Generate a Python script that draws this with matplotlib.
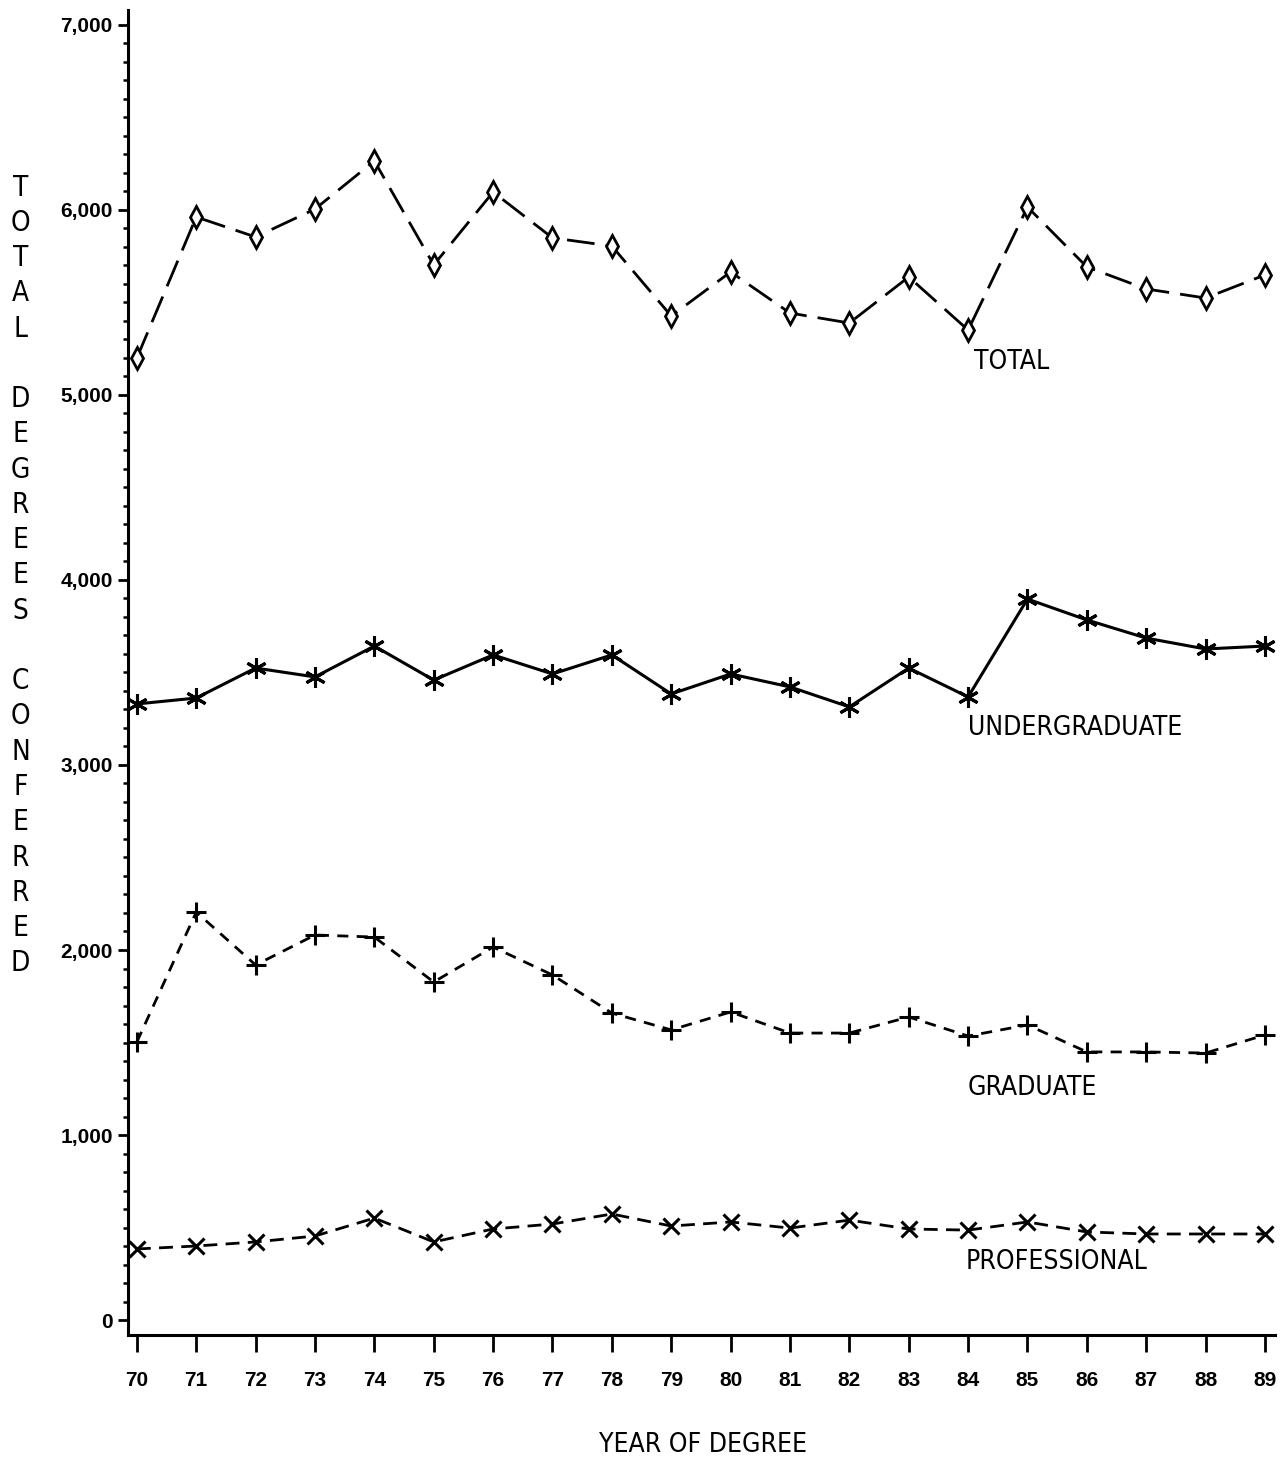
import matplotlib
matplotlib.use('Agg')
from matplotlib import pyplot as plt
from matplotlib.ticker import MultipleLocator, FuncFormatter
import numpy as np

years = [70, 71, 72, 73, 74, 75, 76, 77, 78, 79, 80, 81, 82, 83, 84, 85, 86, 87, 88, 89]
total = [5200, 5962, 5854, 6005, 6265, 5703, 6097, 5849, 5805, 5427,
         5665, 5443, 5389, 5638, 5351, 6016, 5692, 5573, 5524, 5649]
undergrad = [3330, 3362, 3524, 3476, 3643, 3459, 3595, 3492, 3595, 3384,
             3492, 3422, 3314, 3524, 3368, 3897, 3784, 3686, 3627, 3643]
graduate = [1503, 2205, 1919, 2081, 2070, 1827, 2016, 1865, 1659, 1568,
            1665, 1551, 1551, 1638, 1535, 1595, 1449, 1449, 1443, 1541]
professional = [384, 400, 422, 454, 551, 422, 492, 519, 573, 508,
                530, 497, 540, 492, 486, 530, 476, 465, 465, 465]

series_names = ['TOTAL', 'UNDERGRADUATE', 'GRADUATE', 'PROFESSIONAL']
label_pos = [(84.1, 5178), (84.0, 3200), (84.0, 1254), (83.95, 314)]

ylabel = 'TOTAL DEGREES CONFERRED'
xlabel = 'YEAR OF DEGREE'

plt.rcParams['font.family'] = ['Liberation Sans', 'DejaVu Sans']
plt.rcParams['font.weight'] = 'bold'

fig = plt.figure(figsize=(12.86, 14.68), dpi=100)
ax = fig.add_axes([0.0995, 0.0906, 0.892, 0.9026])

ax.plot(years, total, color='black', lw=2.0, dashes=(10, 4),
        marker='d', ms=11, mfc='white', mec='black', mew=2.0)
ax.plot(years, undergrad, color='black', lw=2.2,
        marker=(6, 2, 0), ms=15, mec='black', mew=2.2)
ax.plot(years, graduate, color='black', lw=2.0, dashes=(4, 3),
        marker='+', ms=15, mew=2.2)
ax.plot(years, professional, color='black', lw=2.0, dashes=(5, 3),
        marker='x', ms=12, mew=2.2)

cond = dict(family='DejaVu Sans', stretch='condensed', fontweight='normal')
for name, (x, y) in zip(series_names, label_pos):
    ax.text(x, y, name, fontsize=19, ha='left', va='center', **cond)

ax.set_xlim(69.85, 89.17)
ax.set_ylim(-81, 7081)
ax.set_xticks(years)
ax.set_xticklabels([str(y) for y in years])
ax.yaxis.set_major_locator(MultipleLocator(1000))
ax.yaxis.set_minor_locator(MultipleLocator(100))
ax.yaxis.set_major_formatter(FuncFormatter(lambda v, p: '{:,}'.format(int(v))))

for s in ['top', 'right']:
    ax.spines[s].set_visible(False)
for s in ['left', 'bottom']:
    ax.spines[s].set_linewidth(2.2)

ax.tick_params(axis='y', which='major', length=7, width=2, direction='out',
               pad=4, labelsize=15)
ax.tick_params(axis='y', which='minor', length=3.5, width=1.8, direction='out')
ax.tick_params(axis='x', which='major', length=12, width=2, direction='out',
               pad=14, labelsize=15)

fig.text(0.547, 0.016, xlabel, fontsize=19, ha='center', va='center', **cond)
fig.text(0.016, 0.608, '\n'.join(ylabel), fontsize=20, ha='center', va='center',
         linespacing=1.33, **cond)

fig.savefig('out.png', dpi=100)
